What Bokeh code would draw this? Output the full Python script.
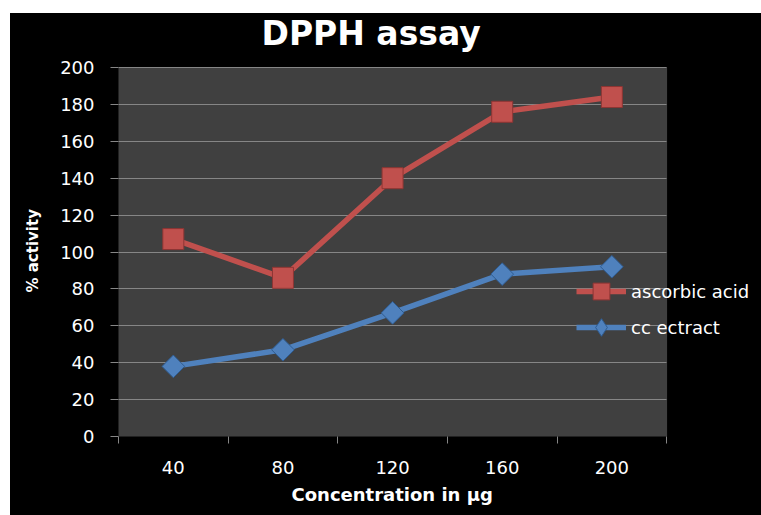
import math
from bokeh.plotting import figure
from bokeh.models import Range1d, FixedTicker, Legend, Label, BoxAnnotation, Title
from bokeh.embed import file_html
from bokeh.resources import INLINE

# ---- data ----
concentrations = [40, 80, 120, 160, 200]
ascorbic_acid = [107, 86, 140, 176, 184]
cc_extract = [38, 47, 67, 88, 92]
y_ticks = [0, 20, 40, 60, 80, 100, 120, 140, 160, 180, 200]
series_names = ["ascorbic acid", "cc ectract"]
title_text = "DPPH assay"
x_label = "Concentration in µg"
y_label = "% activity"

FONT = "DejaVu Sans"
GRAY = "#868686"
RED = "#C0504D"
BLUE = "#4F81BD"

half = (concentrations[1] - concentrations[0]) / 2
boundaries = [c - half for c in concentrations] + [concentrations[-1] + half]

# layout: figure 751x502; the drawing frame extends to the right/top edge so
# that the title and the legend (which overlap the plot area) are not clipped.
FIG_W, FIG_H = 751, 502
BORDER_L, BORDER_B = 107, 79
FRAME_W, FRAME_H = FIG_W - BORDER_L, FIG_H - BORDER_B
AREA_W, AREA_H = 549, 369          # grey plot area in pixels

x0, x1 = boundaries[0], boundaries[-1]
y0, y1 = y_ticks[0], y_ticks[-1]
x_end = x0 + (x1 - x0) * FRAME_W / AREA_W
y_end = y0 + (y1 - y0) * FRAME_H / AREA_H

p = figure(width=FIG_W, height=FIG_H, output_backend="svg", toolbar_location=None,
           x_range=Range1d(x0, x_end), y_range=Range1d(y0, y_end),
           min_border_left=BORDER_L, min_border_right=0,
           min_border_top=0, min_border_bottom=BORDER_B)
p.margin = (13, 0, 0, 10)
p.styles = {"background-color": "black"}

p.background_fill_color = "black"
p.border_fill_color = "black"
p.outline_line_color = None

# grey plot area
p.add_layout(BoxAnnotation(left=x0, right=x1, bottom=y0, top=y1,
                           fill_color="#404040", fill_alpha=1,
                           line_color=GRAY, line_width=1, level="image"))

# chart title
p.add_layout(Label(x=143, y=AREA_H + 34, x_units="screen", y_units="screen",
                   text=title_text, text_font=FONT, text_font_style="bold",
                   text_font_size="33px", text_color="white",
                   text_align="left", text_baseline="alphabetic"))

# axes
xa = p.xaxis[0]
ya = p.yaxis[0]
xa.ticker = FixedTicker(ticks=concentrations, minor_ticks=boundaries)
ya.ticker = FixedTicker(ticks=y_ticks)
xa.bounds = (x0, x1)
ya.bounds = (y0, y1)
for ax in (xa, ya):
    ax.axis_line_color = None
    ax.major_label_text_color = "white"
    ax.major_label_text_font = FONT
    ax.major_label_text_font_size = "18px"

xa.major_tick_line_color = None
xa.minor_tick_line_color = GRAY
xa.minor_tick_out = 7
xa.minor_tick_in = 0
xa.major_label_standoff = 17

ya.major_tick_line_color = GRAY
ya.major_tick_out = 8
ya.major_tick_in = 0
ya.minor_tick_line_color = None
ya.major_label_standoff = 16

# axis titles centred on the grey plot area
p.add_layout(Title(text=x_label, align="left", offset=173, standoff=11,
                   text_font=FONT, text_font_style="bold", text_font_size="18px",
                   text_color="white", vertical_align="bottom"), "below")
p.add_layout(Title(text=y_label, align="left", offset=144, standoff=27,
                   text_font=FONT, text_font_style="bold", text_font_size="15px",
                   text_color="white", vertical_align="top"), "left")

p.xgrid.grid_line_color = None
p.ygrid.grid_line_color = GRAY
p.ygrid.cross_bounds = (x0, x1)

# series
r1 = p.line(concentrations, ascorbic_acid, line_color=RED, line_width=5.5)
s1 = p.scatter(concentrations, ascorbic_acid, marker="square", size=21,
               fill_color=RED, line_color="#8E3533")
r2 = p.line(concentrations, cc_extract, line_color=BLUE, line_width=5.5)
# diamond used for the legend swatch (hidden below the rotated squares)
d2 = p.scatter(concentrations, cc_extract, marker="diamond", size=14,
               fill_color=BLUE, line_color="#2F5C91")
s2 = p.scatter(concentrations, cc_extract, marker="square", angle=math.pi / 4,
               size=16, fill_color=BLUE, line_color="#2F5C91")

def make_legend(name, renderers, gh, loc):
    lg = Legend(items=[(name, renderers)], location=loc,
                background_fill_alpha=0, border_line_alpha=0,
                padding=0, margin=0, glyph_width=50, glyph_height=gh,
                label_standoff=5, label_text_color="white",
                label_text_font=FONT, label_text_font_size="18px")
    p.add_layout(lg)

make_legend(series_names[0], [r1, s1], 42, (458, 124))
make_legend(series_names[1], [r2, d2], 44, (458, 87))

open("out.html", "w").write(file_html(p, INLINE))
